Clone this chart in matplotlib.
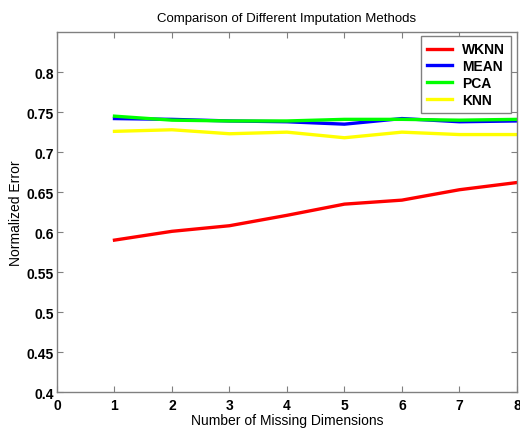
import matplotlib
matplotlib.use("Agg")
import matplotlib.pyplot as plt

plt.rcParams["font.family"] = ["Liberation Sans", "DejaVu Sans"]

# Number of missing dimensions vs. normalized error per imputation method.
dims = [1, 2, 3, 4, 5, 6, 7, 8]
wknn = [0.590, 0.601, 0.608, 0.621, 0.635, 0.640, 0.653, 0.662]
mean = [0.742, 0.741, 0.739, 0.738, 0.735, 0.742, 0.738, 0.739]
pca = [0.745, 0.740, 0.739, 0.739, 0.741, 0.741, 0.740, 0.741]
knn = [0.726, 0.728, 0.723, 0.725, 0.718, 0.725, 0.722, 0.722]

x_ticks = [0, 1, 2, 3, 4, 5, 6, 7, 8]
y_ticks = [0.4, 0.45, 0.5, 0.55, 0.6, 0.65, 0.7, 0.75, 0.8]
y_labels = ["0.4", "0.45", "0.5", "0.55", "0.6", "0.65", "0.7", "0.75", "0.8"]

fig = plt.figure(figsize=(5.2, 4.31), dpi=100)
ax = fig.add_axes([0.1096, 0.088, 0.8844, 0.835])

lw = 2.4
ax.plot(dims, wknn, color="#ff0000", lw=lw, label="WKNN")
ax.plot(dims, mean, color="#0000ff", lw=lw, label="MEAN")
ax.plot(dims, pca, color="#00ff00", lw=lw, label="PCA")
ax.plot(dims, knn, color="#ffff00", lw=lw, label="KNN")

ax.set_xlim(0, 8)
ax.set_ylim(0.4, 0.85)
ax.set_xticks(x_ticks)
ax.set_yticks(y_ticks)
ax.set_yticklabels(y_labels)
for lbl in ax.get_xticklabels() + ax.get_yticklabels():
    lbl.set_fontweight("bold")
    lbl.set_fontsize(10)

ax.tick_params(direction="in", top=True, right=True, length=4, color="#808080", pad=2)
ax.tick_params(axis="x", pad=4)
for s in ax.spines.values():
    s.set_color("#808080")
    s.set_linewidth(1.0)

ax.set_title("Comparison of Different Imputation Methods", fontsize=9.5, pad=8)
ax.set_xlabel("Number of Missing Dimensions", fontsize=10, labelpad=1)
ax.set_ylabel("Normalized Error", fontsize=10, labelpad=3)

leg = ax.legend(loc="upper right", bbox_to_anchor=(0.987, 0.989), borderaxespad=0,
                fancybox=False, framealpha=1, edgecolor="#808080", handlelength=1.8,
                prop={"weight": "bold", "size": 10}, borderpad=0.45,
                labelspacing=0.2, handletextpad=0.7)
leg.get_frame().set_linewidth(1.0)

fig.savefig("out.png", dpi=100, facecolor="white")
